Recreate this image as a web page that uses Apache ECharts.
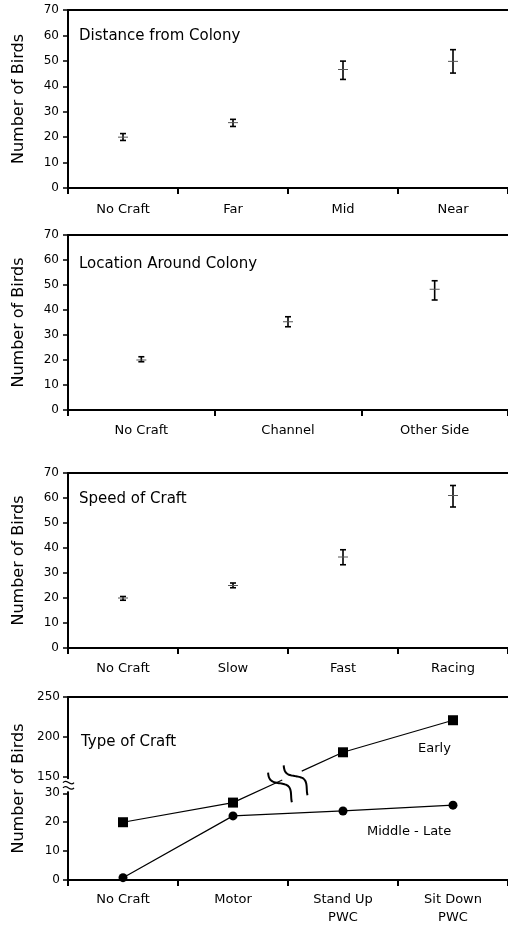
<!DOCTYPE html>
<html><head><meta charset="utf-8">
<script src="https://cdn.jsdelivr.net/npm/echarts@6/dist/echarts.min.js"></script>
<style>html,body{margin:0;padding:0;background:#fff}#c{width:508px;height:927px}</style>
</head><body><div id="c"></div>
<script>
// ---------- data ----------
const distanceCats = ['No Craft', 'Far', 'Mid', 'Near'];
const distanceMean = [20, 25.7, 46.6, 49.8];
const distanceLow  = [18.7, 24.2, 42.7, 45.2];
const distanceHigh = [21.4, 27.0, 49.9, 54.4];

const locationCats = ['No Craft', 'Channel', 'Other Side'];
const locationMean = [20, 35.3, 48.3];
const locationLow  = [19.3, 33.3, 44.0];
const locationHigh = [21.3, 37.3, 51.7];

const speedCats = ['No Craft', 'Slow', 'Fast', 'Racing'];
const speedMean = [20, 25, 36.4, 61];
const speedLow  = [19.1, 24.1, 33.3, 56.4];
const speedHigh = [20.6, 26.0, 39.3, 65.0];

const typeCats = ['No Craft', 'Motor', 'Stand Up\nPWC', 'Sit Down\nPWC'];
const earlyValues = [20, 26.8, 181, 221];
const middleLateValues = [0.8, 22.2, 23.9, 25.9];

const birdTickMax = 70;
const birdTickStep = 10;
const typeLowTicks = [0, 10, 20, 30];
const typeHighTicks = [150, 200, 250];
const breakStart = 30, breakEnd = 150;

const panelTitles = ['Distance from Colony', 'Location Around Colony', 'Speed of Craft', 'Type of Craft'];
const seriesNames = ['Early', 'Middle - Late'];
const yName = 'Number of Birds';

// ---------- styling ----------
const F = 'DejaVu Sans';
const BLACK = '#000';

const chart = echarts.init(document.getElementById('c'), null, {renderer: 'canvas'});

function rows(mean, low, high) {
  return mean.map((m, i) => [i, m, low[i], high[i]]);
}

function errRender(params, api) {
  const x = api.value(0);
  const pm = api.coord([x, api.value(1)]);
  const pl = api.coord([x, api.value(2)]);
  const ph = api.coord([x, api.value(3)]);
  const cw = 3, dw = 5;
  const st = {stroke: BLACK, lineWidth: 1.6};
  return {
    type: 'group',
    children: [
      {type: 'line', shape: {x1: pl[0], y1: pl[1], x2: ph[0], y2: ph[1]}, style: st},
      {type: 'line', shape: {x1: pl[0] - cw, y1: pl[1], x2: pl[0] + cw, y2: pl[1]}, style: st},
      {type: 'line', shape: {x1: ph[0] - cw, y1: ph[1], x2: ph[0] + cw, y2: ph[1]}, style: st},
      {type: 'line', shape: {x1: pm[0] - dw, y1: pm[1], x2: pm[0] + dw, y2: pm[1]}, style: {stroke: '#555', lineWidth: 1}}
    ]
  };
}

function catAxis(gi, data, margin, lh) {
  return {
    type: 'category', gridIndex: gi, data: data, boundaryGap: true, position: 'bottom',
    axisLine: {onZero: false, lineStyle: {color: BLACK, width: 2}},
    axisTick: {show: true, length: 6, lineStyle: {color: BLACK, width: 2}},
    axisLabel: {color: BLACK, fontFamily: F, fontSize: 13, margin: margin, lineHeight: lh || 15, interval: 0},
    splitLine: {show: false}
  };
}
function topAxis(gi, data) {
  return {
    type: 'category', gridIndex: gi, data: data, position: 'top',
    axisLine: {onZero: false, lineStyle: {color: BLACK, width: 2}},
    axisTick: {show: false}, axisLabel: {show: false}, splitLine: {show: false}
  };
}
function birdAxis(gi) {
  return {
    type: 'value', gridIndex: gi, min: 0, max: birdTickMax, interval: birdTickStep,
    name: yName, nameLocation: 'middle', nameGap: 41,
    nameTextStyle: {color: BLACK, fontFamily: F, fontSize: 16},
    axisLine: {show: true, onZero: false, lineStyle: {color: BLACK, width: 2}},
    axisTick: {show: true, length: 5, lineStyle: {color: BLACK, width: 1.5}},
    axisLabel: {color: BLACK, fontFamily: F, fontSize: 12, margin: 9},
    splitLine: {show: false}
  };
}

const grids = [
  {left: 68, right: 0, top: 10, height: 178},
  {left: 68, right: 0, top: 235, height: 175},
  {left: 68, right: 0, top: 473, height: 175},
  {left: 68, right: 0, top: 697, height: 185}
];

// lower part of the broken axis: 2.92 px per bird; upper part: 0.81 px per bird
const lowMax = 185 / 2.92;
const highMin = breakEnd - (185 - 81) / 0.81;

const option = {
  backgroundColor: '#fff',
  animation: false,
  grid: grids,
  xAxis: [
    catAxis(0, distanceCats, 14),
    catAxis(1, locationCats, 13),
    catAxis(2, speedCats, 13),
    catAxis(3, typeCats, 11, 18),
    topAxis(0, distanceCats),
    topAxis(1, locationCats),
    topAxis(2, speedCats),
    topAxis(3, typeCats)
  ],
  yAxis: [
    birdAxis(0), birdAxis(1), birdAxis(2),
    {
      type: 'value', gridIndex: 3, min: 0, max: lowMax,
      name: yName, nameLocation: 'middle', nameGap: 41,
      nameTextStyle: {color: BLACK, fontFamily: F, fontSize: 16},
      axisLine: {show: true, onZero: false, lineStyle: {color: BLACK, width: 2}},
      axisTick: {show: true, length: 5, customValues: typeLowTicks, lineStyle: {color: BLACK, width: 1.5}},
      axisLabel: {color: BLACK, fontFamily: F, fontSize: 12, margin: 8, customValues: typeLowTicks},
      splitLine: {show: false}
    },
    {
      type: 'value', gridIndex: 3, min: highMin, max: 250, position: 'left',
      axisLine: {show: false},
      axisTick: {show: true, length: 5, customValues: typeHighTicks, lineStyle: {color: BLACK, width: 1.5}},
      axisLabel: {color: BLACK, fontFamily: F, fontSize: 12, margin: 8, customValues: typeHighTicks},
      splitLine: {show: false}
    }
  ],
  series: [
    {type: 'custom', xAxisIndex: 0, yAxisIndex: 0, renderItem: errRender, encode: {x: 0, y: [1, 2, 3]},
     data: rows(distanceMean, distanceLow, distanceHigh), silent: true},
    {type: 'custom', xAxisIndex: 1, yAxisIndex: 1, renderItem: errRender, encode: {x: 0, y: [1, 2, 3]},
     data: rows(locationMean, locationLow, locationHigh), silent: true},
    {type: 'custom', xAxisIndex: 2, yAxisIndex: 2, renderItem: errRender, encode: {x: 0, y: [1, 2, 3]},
     data: rows(speedMean, speedLow, speedHigh), silent: true},
    {type: 'line', name: seriesNames[0], xAxisIndex: 3, yAxisIndex: 3,
     data: earlyValues.map(v => v <= breakStart ? v : null),
     symbol: 'rect', symbolSize: 10, itemStyle: {color: BLACK}, lineStyle: {color: BLACK, width: 1.2}},
    {type: 'line', name: seriesNames[0], xAxisIndex: 3, yAxisIndex: 4,
     data: earlyValues.map(v => v >= breakEnd ? v : null),
     symbol: 'rect', symbolSize: 10, itemStyle: {color: BLACK}, lineStyle: {color: BLACK, width: 1.2}},
    {type: 'line', name: seriesNames[1], xAxisIndex: 3, yAxisIndex: 3,
     data: middleLateValues,
     symbol: 'circle', symbolSize: 9, itemStyle: {color: BLACK}, lineStyle: {color: BLACK, width: 1.2}}
  ],
  graphic: [
    {type: 'text', x: 79, y: 36, style: {text: panelTitles[0], font: '15px "DejaVu Sans"', fill: BLACK, verticalAlign: 'middle'}},
    {type: 'text', x: 79, y: 264, style: {text: panelTitles[1], font: '15px "DejaVu Sans"', fill: BLACK, verticalAlign: 'middle'}},
    {type: 'text', x: 79, y: 499, style: {text: panelTitles[2], font: '15px "DejaVu Sans"', fill: BLACK, verticalAlign: 'middle'}},
    {type: 'text', x: 81, y: 742, style: {text: panelTitles[3], font: '15px "DejaVu Sans"', fill: BLACK, verticalAlign: 'middle'}},
    {type: 'text', x: 418, y: 749, style: {text: seriesNames[0], font: '13px "DejaVu Sans"', fill: BLACK, verticalAlign: 'middle'}},
    {type: 'text', x: 367, y: 832, style: {text: seriesNames[1], font: '13px "DejaVu Sans"', fill: BLACK, verticalAlign: 'middle'}}
  ]
};

chart.setOption(option);

// ---- broken-axis decorations, positioned through the chart's own scales ----
(function () {
  const extra = [];
  let i1 = 0;
  for (let i = 0; i < earlyValues.length - 1; i++) {
    if (earlyValues[i] <= breakStart && earlyValues[i + 1] >= breakEnd) { i1 = i; break; }
  }
  const p1 = chart.convertToPixel({xAxisIndex: 3, yAxisIndex: 3}, [i1, earlyValues[i1]]);
  const p2 = chart.convertToPixel({xAxisIndex: 3, yAxisIndex: 4}, [i1 + 1, earlyValues[i1 + 1]]);
  const dx = p2[0] - p1[0], dy = p2[1] - p1[1];
  const L = Math.hypot(dx, dy);
  const ux = dx / L, uy = dy / L;
  const nx = -uy, ny = ux; // perpendicular, pointing down-right
  const at = (t, off) => [p1[0] + ux * L * t + nx * off, p1[1] + uy * L * t + ny * off];
  const ln = {stroke: BLACK, lineWidth: 1.2};
  const a = at(0.448, 0), b = at(0.625, 0);
  extra.push({type: 'line', shape: {x1: p1[0], y1: p1[1], x2: a[0], y2: a[1]}, style: ln, z: 10});
  extra.push({type: 'line', shape: {x1: b[0], y1: b[1], x2: p2[0], y2: p2[1]}, style: ln, z: 10});
  // wavy break marks across the Early line
  const vx = 0.3 * ux + 0.95 * nx, vy = 0.3 * uy + 0.95 * ny;
  const vl = Math.hypot(vx, vy);
  const sx = vx / vl, sy = vy / vl;
  const px = -sy, py = sx;
  [0.425, 0.567].forEach(t => {
    const c = at(t, 5);
    const h = 19, amp = 4.5, pts = [];
    for (let k = 0; k <= 40; k++) {
      const s = -h + 2 * h * k / 40;
      const w = amp * Math.sin(2 * Math.PI * 1.1 * (s + h) / (2 * h) + 0.3);
      pts.push([c[0] + sx * s + px * w, c[1] + sy * s + py * w]);
    }
    extra.push({type: 'polyline', shape: {points: pts, smooth: 0.3},
      style: {stroke: BLACK, lineWidth: 2, fill: null}, z: 10});
  });
  // break marker on the y axis
  const y30 = chart.convertToPixel({yAxisIndex: 3}, breakStart);
  const y150 = chart.convertToPixel({yAxisIndex: 4}, breakEnd);
  const c0 = chart.convertToPixel({xAxisIndex: 3}, 0), c1 = chart.convertToPixel({xAxisIndex: 3}, 1);
  const ax = c0 - (c1 - c0) / 2;
  extra.push({type: 'rect', shape: {x: ax - 3, y: y150 + 2, width: 6, height: y30 - y150 - 4}, style: {fill: '#fff'}, z: 20});
  const gap = y30 - y150;
  [1 / 3, 2 / 3].forEach(f => {
    const yy = y150 + gap * f;
    extra.push({type: 'bezierCurve', shape: {
      x1: ax - 5, y1: yy, x2: ax + 6, y2: yy,
      cpx1: ax - 1, cpy1: yy - 5, cpx2: ax + 2, cpy2: yy + 5
    }, style: {stroke: BLACK, lineWidth: 1.2, fill: null}, z: 21});
  });
  chart.setOption({graphic: option.graphic.concat(extra)});
})();
</script>
</body></html>
